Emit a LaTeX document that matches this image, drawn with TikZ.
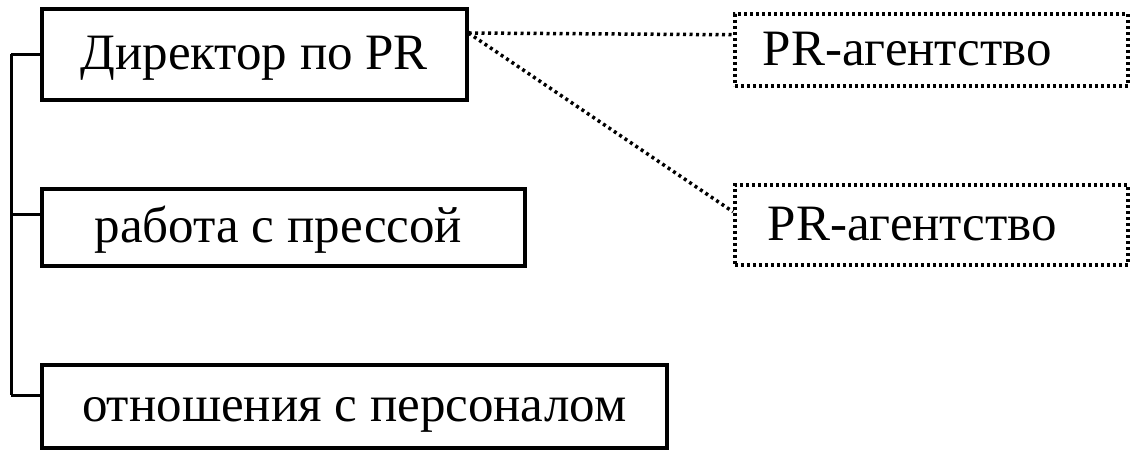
\documentclass[tikz,border=0pt]{standalone}
\usepackage{fontspec}
\setmainfont{Liberation Serif}
\usetikzlibrary{calc}

\tikzset{
	unit/.style={draw,line width=3.5pt,anchor=north west,inner sep=0pt,
		text height=36pt,text depth=5pt,font=\fontsize{51}{60}\selectfont},
	agency/.style={unit,line width=3.5pt,dash pattern=on 3pt off 3pt},
	link/.style={line width=3pt},
	dots/.style={line width=3.5pt,dash pattern=on 3pt off 3.5pt}
}

\begin{document}
\begin{tikzpicture}[x=1pt,y=-1pt]
		\useasboundingbox (0,0) rectangle (1135,450);
		% department units
		\node[unit,minimum width=425pt,minimum height=91pt] (dir) at (40,7) {Директор по PR};
		\node[unit,minimum width=483pt,minimum height=77pt,align=flush left,inner xsep=53pt,text width=377pt] (press) at (40,187) {работа с прессой};
		\node[unit,minimum width=625pt,minimum height=83pt] (staff) at (40,363) {отношения с персоналом};
		% outside agencies
		\node[agency,minimum width=393pt,minimum height=72pt,align=flush left,inner xsep=28pt,text width=337pt] (agA) at (733,12) {PR-агентство};
		\node[agency,minimum width=393pt,minimum height=80pt,align=flush left,inner xsep=33pt,text width=327pt] (agB) at (733,183) {PR-агентство};
		% bracket on the left
		\coordinate (top) at ($(dir.west)+(-29,0)$);
		\coordinate (bot) at ($(staff.west)+(-29,-11)$);
		\draw[link] (top) -- (bot);
		\draw[link] (top) -- (dir.west);
		\draw[link] (top |- press.west) ++(0,-13) -- ([yshift=13pt]press.west);
		\draw[link] (bot) -- ([yshift=11pt]staff.west);
		% dotted ties to the agencies
		\coordinate (tie) at ($(dir.north east)+(0,26)$);
		\draw[dots] (tie) -- ([yshift=15pt]agA.west);
		\draw[dots] (tie) -- ([yshift=13pt]agB.west);
		\fill (tie) circle (2.5pt);
	\end{tikzpicture}
\end{document}
